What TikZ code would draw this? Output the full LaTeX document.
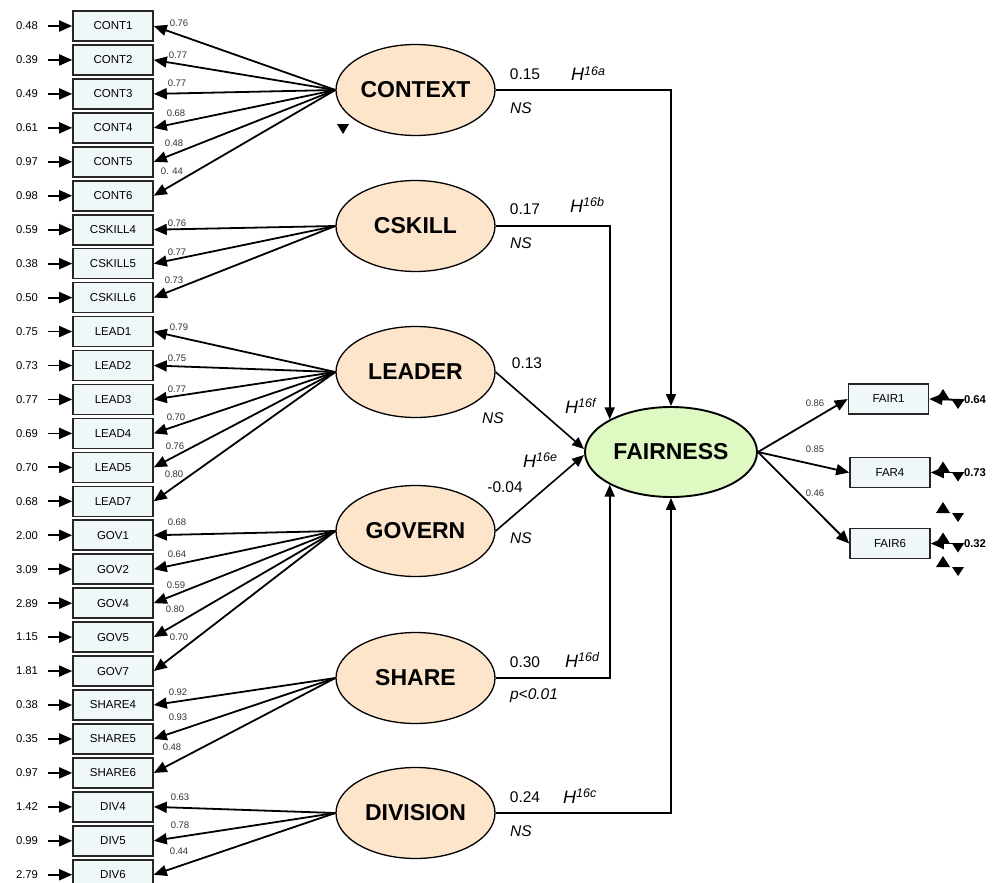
\documentclass[tikz,border=0pt]{standalone}
\usepackage{fontspec}
\setmainfont{Liberation Sans}
\usetikzlibrary{shapes.geometric,arrows.meta,calc}

\definecolor{latfill}{RGB}{253,229,204}
\definecolor{endofill}{RGB}{222,250,194}
\definecolor{boxfill}{RGB}{240,247,248}

% hypothesis label: italic H with a raised tag
\newcommand{\hyptag}[1]{H\raisebox{5.5pt}{\fontsize{12.5}{14}\selectfont\itshape #1}}

\tikzset{
  indbox/.style={draw=black!85, line width=1.6pt, fill=boxfill,
    minimum width=80pt, minimum height=30pt, inner sep=0pt,
    font=\fontsize{11.5}{13}\selectfont},
  latent/.style={ellipse, draw=black, line width=1.3pt, fill=latfill,
    minimum width=159pt, minimum height=91pt, inner sep=0pt,
    font=\fontsize{23}{27}\selectfont\bfseries},
  endo/.style={latent, fill=endofill, line width=1.9pt,
    minimum width=172pt, minimum height=90pt},
  errval/.style={inner sep=0pt, outer xsep=10pt, font=\fontsize{11.3}{13}\selectfont},
  errbold/.style={inner sep=0pt, font=\fontsize{11.3}{13}\selectfont\bfseries},
  loadlbl/.style={inner sep=0pt, text=black!80, font=\fontsize{9.5}{11}\selectfont},
  coef/.style={inner sep=0pt, font=\fontsize{15.5}{18}\selectfont},
  siglbl/.style={inner sep=0pt, font=\fontsize{15.5}{18}\selectfont\itshape},
  hyplbl/.style={inner sep=0pt, anchor=base west, font=\fontsize{18}{20}\selectfont\itshape},
  arr/.style={-{Triangle[length=13pt,width=11pt]}, line width=1.8pt},
  regpath/.style={-{Triangle[length=12pt,width=10pt]}, line width=1.6pt}
}

\begin{document}
\begin{tikzpicture}[x=1pt,y=-1pt]
\useasboundingbox (0,0) rectangle (1004,883);

% observed indicators with error variances and loadings
\foreach \nm/\ev/\ld/\lx/\ly [count=\i from 0] in {
  CONT1/0.48/0.76/179/23, CONT2/0.39/0.77/178/55, CONT3/0.49/0.77/177/83,
  CONT4/0.61/0.68/176/113, CONT5/0.97/0.48/174/143, CONT6/0.98/{0. 44}/172/171,
  CSKILL4/0.59/0.76/177/223, CSKILL5/0.38/0.77/177/252, CSKILL6/0.50/0.73/174/280,
  LEAD1/0.75/0.79/179/327, LEAD2/0.73/0.75/177/358, LEAD3/0.77/0.77/177/389,
  LEAD4/0.69/0.70/176/417, LEAD5/0.70/0.76/175/446, LEAD7/0.68/0.80/174/474,
  GOV1/2.00/0.68/177/522, GOV2/3.09/0.64/177/554, GOV4/2.89/0.59/176/585,
  GOV5/1.15/0.80/175/609, GOV7/1.81/0.70/179/637,
  SHARE4/0.38/0.92/178/692, SHARE5/0.35/0.93/178/717, SHARE6/0.97/0.48/172/747,
  DIV4/1.42/0.63/180/797, DIV5/0.99/0.78/180/825, DIV6/2.79/0.44/179/851} {
  \node[indbox] (ind\i) at (113,{26+33.95*\i}) {\nm};
  \node[errval] (err\i) at (27,{26+33.95*\i}) {\ev};
  \draw[arr] (err\i.east) -- (ind\i.west);
  \node[loadlbl] (ld\i) at (\lx,\ly) {\ld};
}

% latent constructs
\node[latent] (CONTEXT)  at (415.5,90)  {CONTEXT};
\node[latent] (CSKILL)   at (415.5,226) {CSKILL};
\node[latent] (LEADER)   at (415.5,372) {LEADER};
\node[latent] (GOVERN)   at (415.5,531) {GOVERN};
\node[latent] (SHARE)    at (415.5,678) {SHARE};
\node[latent] (DIVISION) at (415.5,813) {DIVISION};
\node[endo]   (FAIR)     at (671,452)   {FAIRNESS};

% measurement paths
\foreach \i in {0,...,5}   \draw[arr] (CONTEXT.west)  -- (ind\i.east);
\foreach \i in {6,7,8}     \draw[arr] (CSKILL.west)   -- (ind\i.east);
\foreach \i in {9,...,14}  \draw[arr] (LEADER.west)   -- (ind\i.east);
\foreach \i in {15,...,19} \draw[arr] (GOVERN.west)   -- (ind\i.east);
\foreach \i in {20,21,22}  \draw[arr] (SHARE.west)    -- (ind\i.east);
\foreach \i in {23,24,25}  \draw[arr] (DIVISION.west) -- (ind\i.east);

% structural paths
\draw[regpath] (CONTEXT.east)  -| (FAIR.north);
\draw[regpath] (CSKILL.east)   -| (FAIR.152);
\draw[regpath] (LEADER.east)   -- ($(FAIR.west)+(0,-3)$);
\draw[regpath] (GOVERN.east)   -- ($(FAIR.west)+(0,3)$);
\draw[regpath] (SHARE.east)    -| (FAIR.208);
\draw[regpath] (DIVISION.east) -| (FAIR.south);

% path coefficients, significance and hypotheses
\node[coef] (c1) at (525,74)  {0.15};
\node[siglbl] (s1) at (521,108) {NS};
\node[hyplbl] (h1) at (571,80.7) {\hyptag{16a}};
\node[coef] (c2) at (525,209) {0.17};
\node[siglbl] (s2) at (521,243) {NS};
\node[hyplbl] (h2) at (570,212) {\hyptag{16b}};
\node[coef] (c3) at (527,363) {0.13};
\node[siglbl] (s3) at (493,418) {NS};
\node[hyplbl] (h3) at (565,413) {\hyptag{16f}};
\node[coef] (c4) at (505,487) {-0.04};
\node[siglbl] (s4) at (521,538) {NS};
\node[hyplbl] (h4) at (523,467) {\hyptag{16e}};
\node[coef] (c5) at (525,662) {0.30};
\node[siglbl] (s5) at (534,696) {p<0.01};
\node[hyplbl] (h5) at (565,667) {\hyptag{16d}};
\node[coef] (c6) at (525,797) {0.24};
\node[siglbl] (s6) at (521,831) {NS};
\node[hyplbl] (h6) at (563,803) {\hyptag{16c}};

% outcome indicators
\node[indbox] (FAIR1) at (888.5,399) {FAIR1};
\node[indbox] (FAR4)  at (890,472.5) {FAR4};
\node[indbox] (FAIR6) at (890,543.5) {FAIR6};
\draw[arr] (FAIR.east) -- (FAIR1.west);
\draw[arr] (FAIR.east) -- (FAR4.west);
\draw[arr] (FAIR.east) -- (FAIR6.west);
\node[loadlbl] (lf1) at (815,403) {0.86};
\node[loadlbl] (lf2) at (815,449) {0.85};
\node[loadlbl] (lf3) at (815,493) {0.46};

\node[errbold] (ef1) at (975,400) {0.64};
\node[errbold] (ef2) at (975,472.5) {0.73};
\node[errbold] (ef3) at (975,543.5) {0.32};
\draw[arr] (ef1.west) -- (FAIR1.east);
\draw[arr] (ef2.west) -- (FAR4.east);
\draw[arr] (ef3.west) -- (FAIR6.east);

% small triangle marks beside the error terms
\foreach \yb in {400,472.5,543.5,513,567} {
  \fill (936,\yb) -- (943,{\yb-11}) -- (950,\yb) -- cycle;
  \fill (952,\yb) -- (964,\yb) -- (958,{\yb+9}) -- cycle;
}
\fill (337,124) -- (349,124) -- (343,134) -- cycle;
\end{tikzpicture}
\end{document}
